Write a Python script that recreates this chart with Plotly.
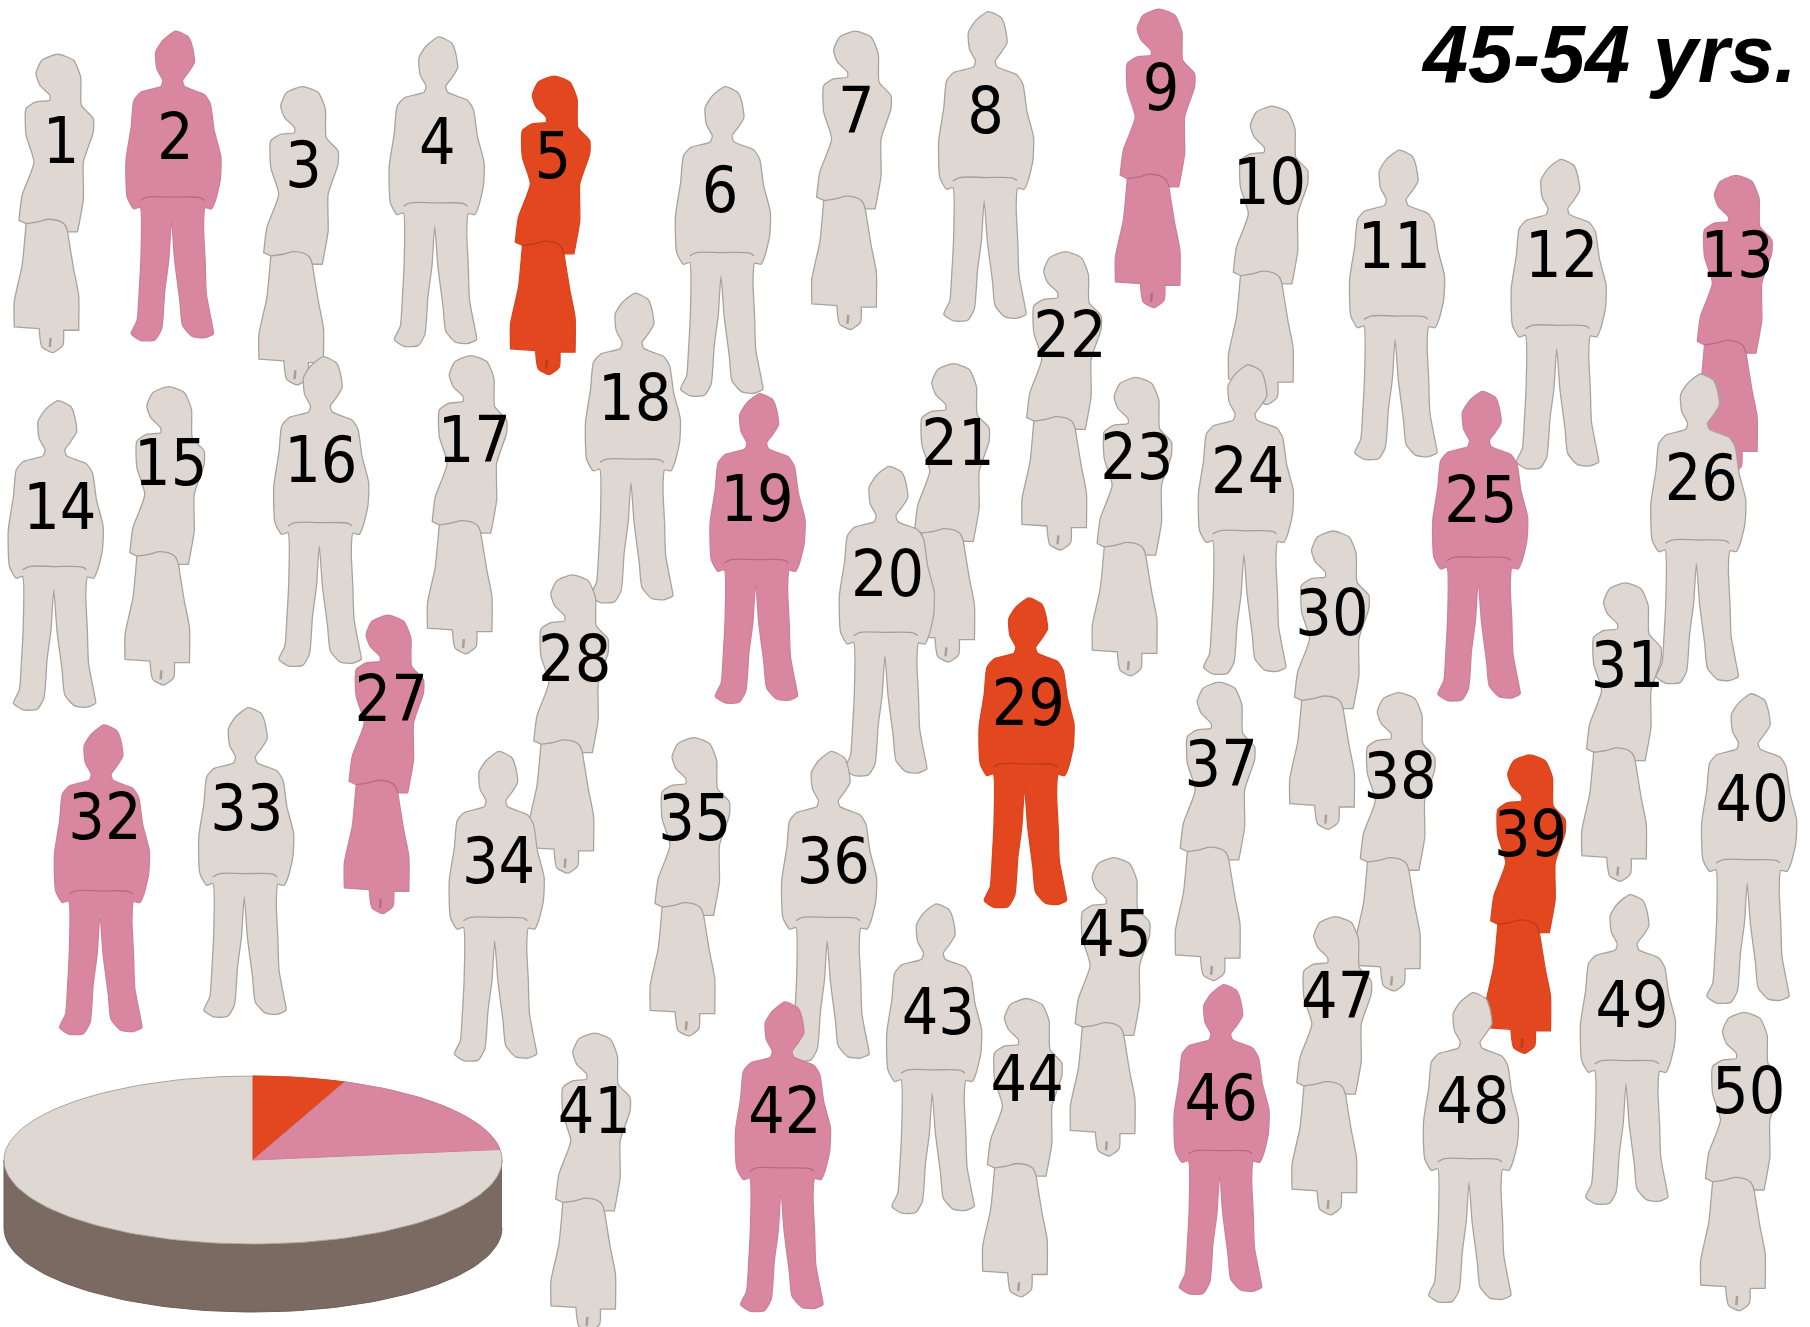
import numpy as np
import plotly.graph_objects as go

# --- data -----------------------------------------------------------------
person_ids = list(range(1, 51))
person_kind = list("wmwmwmwmwwmmwmwmwmmmwwwmmmwwmwwmmmwmwwwmwmmwwmwmmw")
person_group = {2: "p", 5: "r", 9: "p", 13: "p", 19: "p", 25: "p", 27: "p", 29: "r", 32: "p", 39: "r", 42: "p", 46: "p"}
head_x = [50,152,262,380,480,628,741,856,1004,1102,1212,1352,1504,50,146,280,408,550,658,770,826,923,984,1081,1284,
          1473,336,496,891,1155,1408,90,215,432,601,720,1056,1212,1325,1517,515,680,811,889,965,1060,1157,1276,1412,1511]
head_y = [47,27,75,32,66,75,27,10,8,92,130,138,152,347,335,309,308,254,341,404,315,218,327,316,339,
          324,533,498,518,460,505,628,613,651,639,651,591,600,654,601,895,868,783,865,743,853,794,860,775,877]
label_x = [52,151,262,378,478,623,741,853,1005,1099,1207,1352,1504,51,147,277,410,549,655,768,829,926,984,1080,1282,
           1473,338,497,890,1153,1409,90,213,431,601,721,1057,1212,1325,1517,514,679,812,889,965,1057,1158,1275,1413,1514]
label_y = [121,118,142,122,134,164,95,95,75,157,212,220,220,438,400,398,380,344,431,496,383,289,395,407,432,
           413,605,570,608,530,575,707,699,745,708,745,661,671,722,691,962,962,876,934,808,950,862,953,870,944]
draw_order = [i for i in person_ids if i != 20]
draw_order.insert(draw_order.index(21) + 1, 20)   # 20 stands in front of 21
pie_labels = ["red", "pink", "rest"]
pie_values = [6, 17, 77]
title_text = "45-54 yrs."

# silhouettes
man_x = [447,480,490,495,480,465,470,520,535,545,562,560,548,538,522,518,522,525,540,543,520,490,465,458,445,437,430,420,412,395,360,335,350,355,360,358,342,325,322,335,342,360,410,415,400,397,415]
man_y = [92,110,140,185,215,240,258,282,310,390,470,540,600,625,622,680,780,880,975,1000,1012,1008,975,900,780,660,780,870,985,1018,1020,1000,960,880,760,620,625,590,480,380,300,275,258,240,205,155,120]
man_waist_x = [358,375,440,510,520]
man_waist_y = [600,590,590,592,600]
woman_x = [150,190,208,210,240,240,215,215,205,200,200,175,175,190,203,203,203,165,165,163,138,110,103,103,40,40,40,60,70,70,52,52,60,90,70,70,95,130,130,105,95,110]
woman_y = [157,175,225,310,350,390,480,590,660,690,690,690,690,800,880,985,985,985,985,1030,1052,1035,980,980,975,975,900,790,665,665,655,655,580,480,400,320,300,295,280,250,215,175]
woman_waist_x = [70,100,130,165,175]
woman_waist_y = [665,660,652,665,690]
woman_mark_x = [132,130]
woman_mark_y = [1008,1035]

SCALE = 1810 / 1568
ZX, ZY = 1568 / 620, 3.0
FILL = {"b": "#DFD8D2", "p": "#D987A1", "r": "#E2471F"}
EDGE = {"b": "#A9A39E", "p": "#CC8099", "r": "#D8451F"}
SEAM = {"b": "#A89F99", "p": "#B46C84", "r": "#BC3A18"}
SIDE = "#7A6A62"

fig = go.Figure()

# --- pie ------------------------------------------------------------------
cx, cy, rx, ry, depth = 253, 1160, 249, 84, 68
t = np.radians(np.linspace(0, 180, 91))
fig.add_trace(go.Scatter(
    x=np.r_[cx + rx * np.cos(t), cx + rx * np.cos(t[::-1])],
    y=np.r_[cy + ry * np.sin(t), cy + depth + ry * np.sin(t[::-1])],
    mode="lines", fill="toself", fillcolor=SIDE, line=dict(color="#6E5F58", width=1), hoverinfo="skip"))
t = np.linspace(0, 2 * np.pi, 181)
fig.add_trace(go.Scatter(x=cx + rx * np.cos(t), y=cy + ry * np.sin(t), mode="lines", fill="toself",
                         fillcolor=FILL["b"], line=dict(color="#ABA5A0", width=1), hoverinfo="skip"))
cum = np.cumsum([0] + pie_values) / sum(pie_values) * 2 * np.pi
for i, key in enumerate(["r", "p"]):
    a = np.linspace(cum[i], cum[i + 1], 40)
    fig.add_trace(go.Scatter(x=np.r_[cx, cx + rx * np.sin(a), cx], y=np.r_[cy, cy - ry * np.cos(a), cy],
                             mode="lines", fill="toself", fillcolor=FILL[key],
                             line=dict(color=EDGE[key], width=1), hoverinfo="skip"))

# --- people ---------------------------------------------------------------
for pid in draw_order:
    kind, hx, hy = person_kind[pid - 1], head_x[pid - 1], head_y[pid - 1]
    g = person_group.get(pid, "b")
    if kind == "m":
        ox, oy, sx, sy, wx, wy = 447, 92, man_x, man_y, man_waist_x, man_waist_y
    else:
        ox, oy, sx, sy, wx, wy = 150, 157, woman_x, woman_y, woman_waist_x, woman_waist_y
    X = hx * SCALE + (np.array(sx + sx[:1]) - ox) / ZX
    Y = hy * SCALE + (np.array(sy + sy[:1]) - oy) / ZY
    fig.add_trace(go.Scatter(x=X, y=Y, mode="lines", fill="toself", fillcolor=FILL[g],
                             line=dict(color=EDGE[g], width=1.3, shape="spline", smoothing=0.55), hoverinfo="skip"))
    fig.add_trace(go.Scatter(x=hx * SCALE + (np.array(wx) - ox) / ZX, y=hy * SCALE + (np.array(wy) - oy) / ZY,
                             mode="lines", line=dict(color=SEAM[g], width=1.3, shape="spline"), hoverinfo="skip"))
    if kind == "w":
        fig.add_trace(go.Scatter(x=hx * SCALE + (np.array(woman_mark_x) - ox) / ZX,
                                 y=hy * SCALE + (np.array(woman_mark_y) - oy) / ZY,
                                 mode="lines", line=dict(color=SEAM[g], width=2.5), hoverinfo="skip"))

# --- numbers and title ----------------------------------------------------
fig.add_trace(go.Scatter(x=np.array(label_x) * SCALE + 1, y=np.array(label_y) * SCALE + 7, mode="text",
                         text=[str(i) for i in person_ids], textposition="middle center",
                         textfont=dict(family="DejaVu Sans Condensed, DejaVu Sans", size=64, color="#000000"),
                         hoverinfo="skip"))
fig.add_annotation(x=1799, y=54, xref="x", yref="y", xanchor="right", yanchor="middle", showarrow=False,
                   text=title_text, font=dict(family="Liberation Sans", size=81, color="#000000", weight="bold", style="italic"))

fig.update_layout(width=1810, height=1327, margin=dict(l=0, r=0, t=0, b=0), showlegend=False,
                  paper_bgcolor="white", plot_bgcolor="white",
                  xaxis=dict(range=[0, 1810], visible=False, fixedrange=True),
                  yaxis=dict(range=[1327, 0], visible=False, fixedrange=True))
fig.write_html("out.html", config={"displayModeBar": False},
               post_script="document.body.style.margin='0';document.body.style.overflow='hidden';")
